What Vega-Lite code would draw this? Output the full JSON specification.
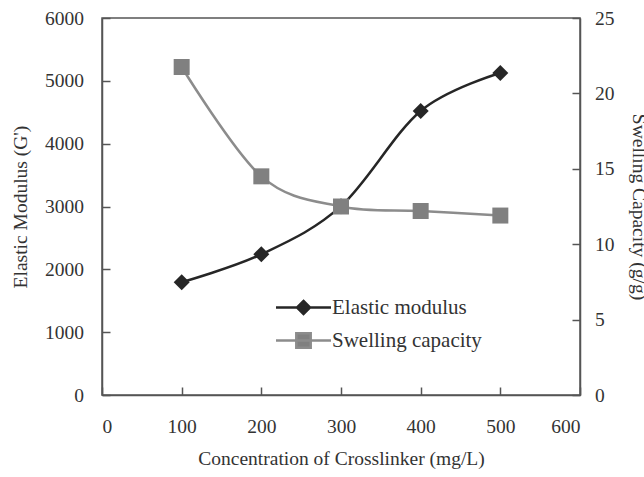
{
  "$schema": "https://vega.github.io/schema/vega-lite/v6.json",
  "width": 478,
  "height": 377,
  "autosize": {"type": "none"},
  "padding": {"left": 102, "top": 18, "right": 64, "bottom": 82},
  "background": "white",
  "config": {
    "font": "Liberation Serif",
    "view": {"stroke": "#555555", "strokeWidth": 1.5},
    "axis": {
      "labelFont": "Liberation Serif",
      "titleFont": "Liberation Serif",
      "labelFontSize": 19.5,
      "titleFontSize": 19.5,
      "labelColor": "#333333",
      "titleColor": "#333333",
      "titleFontWeight": "normal",
      "grid": false,
      "domainColor": "#555555",
      "domainWidth": 1.5,
      "tickColor": "#555555",
      "tickWidth": 1.5,
      "tickSize": -8,
      "format": "d"
    },
    "legend": {
      "labelFont": "Liberation Serif",
      "labelFontSize": 21,
      "labelColor": "#333333",
      "title": null,
      "orient": "none",
      "legendX": 190,
      "legendY": 278,
      "padding": 0,
      "symbolSize": 400,
      "symbolStrokeWidth": 2.5,
      "symbolOpacity": 1,
      "labelOffset": 17,
      "rowPadding": 9
    }
  },
  "data": {
    "values": [
      {"x": 100, "series": "Elastic modulus", "value": 1795},
      {"x": 200, "series": "Elastic modulus", "value": 2240},
      {"x": 300, "series": "Elastic modulus", "value": 3005},
      {"x": 400, "series": "Elastic modulus", "value": 4520},
      {"x": 500, "series": "Elastic modulus", "value": 5125},
      {"x": 100, "series": "Swelling capacity", "value": 21.75},
      {"x": 200, "series": "Swelling capacity", "value": 14.5},
      {"x": 300, "series": "Swelling capacity", "value": 12.5},
      {"x": 400, "series": "Swelling capacity", "value": 12.2},
      {"x": 500, "series": "Swelling capacity", "value": 11.9}
    ]
  },
  "encoding": {
    "x": {
      "field": "x",
      "type": "quantitative",
      "scale": {"domain": [0, 600], "nice": false},
      "axis": {"values": [0, 100, 200, 300, 400, 500, 600], "title": "Concentration of Crosslinker (mg/L)", "titlePadding": 14, "labelPadding": 30}
    }
  },
  "layer": [
    {
      "transform": [{"filter": "datum.series === 'Elastic modulus'"}],
      "encoding": {
        "y": {
          "field": "value",
          "type": "quantitative",
          "scale": {"domain": [0, 6000], "nice": false},
          "axis": {"orient": "left", "values": [0, 1000, 2000, 3000, 4000, 5000, 6000], "title": "Elastic Modulus (G')", "titlePadding": 14, "labelPadding": 26.5}
        }
      },
      "layer": [
        {
          "mark": {"type": "line", "interpolate": "cardinal", "tension": 0, "color": "#262626", "strokeWidth": 2.5}
        },
        {
          "mark": {"type": "point", "shape": "diamond", "filled": true, "size": 256, "opacity": 1, "color": "#262626"}
        },
        {
          "transform": [{"filter": "false"}],
          "mark": {"type": "point", "filled": true},
          "encoding": {
            "fill": {
              "field": "series",
              "type": "nominal",
              "scale": {"domain": ["Elastic modulus", "Swelling capacity"], "range": ["#262626", "#808080"]}
            },
            "stroke": {
              "field": "series",
              "type": "nominal",
              "scale": {"domain": ["Elastic modulus", "Swelling capacity"], "range": ["#262626", "#8c8c8c"]}
            },
            "shape": {
              "field": "series",
              "type": "nominal",
              "scale": {
                "domain": ["Elastic modulus", "Swelling capacity"],
                "range": ["M-2.75,0L2.75,0M0,-0.65L0.65,0L0,0.65L-0.65,0Z", "M-2.75,0L2.75,0M-0.72,-0.72L0.72,-0.72L0.72,0.72L-0.72,0.72Z"]
              }
            }
          }
        }
      ]
    },
    {
      "transform": [{"filter": "datum.series === 'Swelling capacity'"}],
      "encoding": {
        "y": {
          "field": "value",
          "type": "quantitative",
          "scale": {"domain": [0, 25], "nice": false},
          "axis": {"orient": "right", "values": [0, 5, 10, 15, 20, 25], "title": "Swelling Capacity (g/g)", "titlePadding": 14, "labelPadding": 22.5}
        }
      },
      "layer": [
        {
          "mark": {"type": "line", "interpolate": "cardinal", "tension": 0, "color": "#8c8c8c", "strokeWidth": 2.5}
        },
        {
          "mark": {"type": "point", "shape": "square", "filled": true, "size": 256, "opacity": 1, "color": "#808080"}
        }
      ]
    }
  ],
  "resolve": {"scale": {"y": "independent"}}
}
